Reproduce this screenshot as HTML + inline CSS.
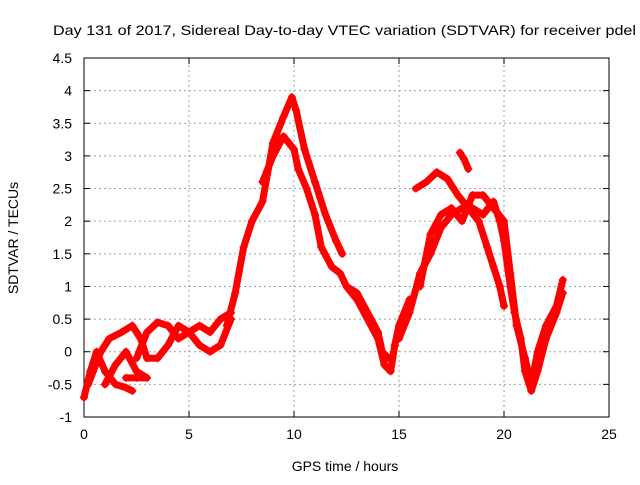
<!DOCTYPE html>
<html><head><meta charset="utf-8"><style>
body{margin:0;background:#fff;font-family:"Liberation Sans",sans-serif}
svg text{font-family:"Liberation Sans",sans-serif;font-size:14px;fill:#000}
</style></head><body>
<svg id="chart" width="640" height="480" xmlns="http://www.w3.org/2000/svg">
<rect width="640" height="480" fill="#fff"/>
<text x="53" y="35" textLength="583" lengthAdjust="spacingAndGlyphs">Day 131 of 2017, Sidereal Day-to-day VTEC variation (SDTVAR) for receiver pdel</text>
<g id="grid"></g>
<g id="axes"></g>
<g id="series"></g>
<text x="345" y="471" text-anchor="middle">GPS time / hours</text>
<text transform="translate(18,238) rotate(-90)" text-anchor="middle">SDTVAR / TECUs</text>
</svg>
<script>
const xTicks=[0,5,10,15,20,25];
const yTicks=[-1,-0.5,0,0.5,1,1.5,2,2.5,3,3.5,4,4.5];
const track1=[[0,-0.7],[0.3,-0.3],[0.6,0],[1,-0.3],[1.5,-0.5],[2,-0.55],[2.3,-0.6]];
const track2=[[0.2,-0.5],[0.8,0],[1.2,0.2],[1.8,0.3],[2.3,0.4],[2.7,0.2],[3,-0.1],[3.5,-0.1],[4,0.1],[4.5,0.4],[5,0.3],[5.5,0.1],[6,0],[6.5,0.1],[7,0.5]];
const track3=[[1,-0.5],[1.5,-0.2],[2,0],[2.5,-0.3],[3,-0.4],[2,-0.4],[2.5,-0.4]];
const track4=[[2.5,-0.1],[3,0.3],[3.5,0.45],[4,0.4],[4.5,0.2],[5,0.3],[5.5,0.4],[6,0.3],[6.5,0.5],[7,0.6]];
const track5=[[6.8,0.4],[7.2,0.9],[7.6,1.6],[8,2.0],[8.5,2.3],[9,3.2],[9.5,3.6],[9.9,3.9],[10.1,3.7],[10.5,3.1],[11,2.6],[11.5,2.1],[12,1.7],[12.3,1.5]];
const track6=[[8.5,2.6],[9,3.0],[9.5,3.3],[10,3.1],[10.2,2.8],[10.6,2.5],[11,2.1],[11.3,1.6],[11.8,1.3],[12.2,1.2],[12.5,1.0],[13,0.8],[13.5,0.5],[14,0.2],[14.3,-0.2],[14.6,-0.3],[14.8,0.1],[15,0.4],[15.5,0.8]];
const track7=[[12.5,1.0],[13,0.9],[13.5,0.6],[14,0.3],[14.2,0],[14.5,-0.1]];
const track8=[[15,0.2],[15.5,0.6],[16,1.2],[16.5,1.5],[17,1.9],[17.5,2.1],[18,2.2],[18.5,2.2],[19,2.1],[19.5,2.3],[19.8,2.0],[20,1.7],[20.3,1.0],[20.5,0.6],[20.8,0.2],[21,-0.3],[21.3,-0.6],[21.6,-0.3],[22,0.2],[22.5,0.6],[22.8,0.9]];
const track9=[[15.8,2.5],[16.3,2.6],[16.8,2.75],[17.3,2.65],[17.8,2.4],[18.3,2.2],[18.8,2.0],[19.2,1.6],[19.5,1.3],[19.8,1.0],[20,0.7]];
const track10=[[16,1.0],[16.5,1.8],[17,2.1],[17.5,2.2],[18,2.0],[18.5,2.4],[19,2.4],[19.5,2.2],[20,2.0],[20.3,1.2],[20.6,0.4],[21,-0.1],[21.3,-0.5],[21.6,0],[22,0.4],[22.5,0.7],[22.8,1.1]];
const track11=[[17.9,3.05],[18.1,2.95],[18.3,2.8]];
const tracks=[track1,track2,track3,track4,track5,track6,track7,track8,track9,track10,track11];

const X0=84,X1=609,Y0=417,Y1=58;
const sx=v=>X0+(v-0)/(25-0)*(X1-X0);
const sy=v=>Y0-(v+1)/(5.5)*(Y0-Y1);
const NS="http://www.w3.org/2000/svg";
function mk(t,a,p){const e=document.createElementNS(NS,t);for(const k in a)e.setAttribute(k,a[k]);p.appendChild(e);return e;}
const grid=document.getElementById('grid'),axes=document.getElementById('axes'),ser=document.getElementById('series');
xTicks.forEach(t=>{
 const x=sx(t);
 if(t>0&&t<25){const l=mk('line',{x1:x,x2:x,y1:Y0,y2:Y1,stroke:'#a0a0a0','stroke-dasharray':'2,3'},grid);
 
 }
 const tx=mk('text',{x:x,y:Y0+22,'text-anchor':'middle'},axes);tx.textContent=t;
 
 
 mk('line',{x1:x,x2:x,y1:Y0,y2:Y0-6,stroke:'#000'},axes);mk('line',{x1:x,x2:x,y1:Y1,y2:Y1+6,stroke:'#000'},axes);
});
yTicks.forEach(t=>{
 const y=sy(t);
 if(t>-1&&t<4.5){const l=mk('line',{x1:X0,x2:X1,y1:y,y2:y,stroke:'#a0a0a0','stroke-dasharray':'2,3'},grid);
 
 }
 const tx=mk('text',{x:X0-12,y:y+5,'text-anchor':'end'},axes);tx.textContent=t;
 
 
 mk('line',{x1:X0,x2:X0+6,y1:y,y2:y,stroke:'#000'},axes);mk('line',{x1:X1,x2:X1-6,y1:y,y2:y,stroke:'#000'},axes);
});
const frame=mk('rect',{x:X0,y:Y1,width:X1-X0,height:Y0-Y1,fill:'none',stroke:'#000'},axes);


tracks.forEach(tr=>{
 const pl=mk('polyline',{points:tr.map(p=>sx(p[0])+','+sy(p[1])).join(' '),fill:'none',stroke:'#ff0000','stroke-width':7,'stroke-linejoin':'round','stroke-linecap':'round'},ser);
 
 
 tr.forEach(p=>{
  const x=sx(p[0]),y=sy(p[1]);
  const m=mk('path',{d:`M${x-4},${y}H${x+4}M${x},${y-4}V${y+4}`,stroke:'#ff0000','stroke-width':1.5},ser);
  
  
 });
});
</script>
</body></html>
